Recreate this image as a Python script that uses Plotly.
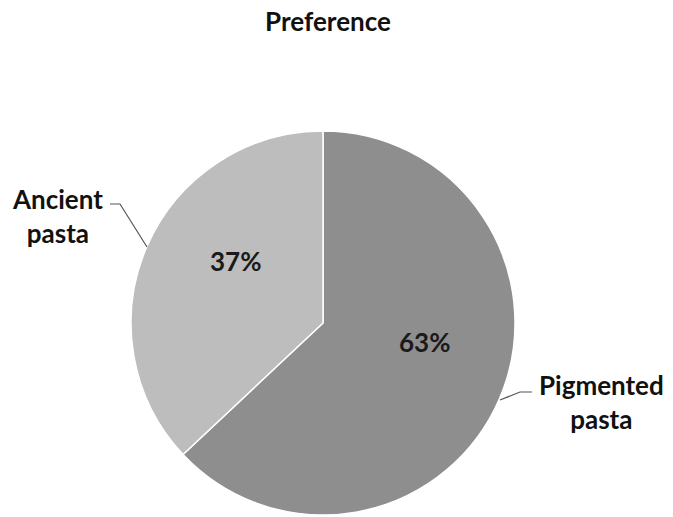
import plotly.graph_objects as go

W, H = 673, 517
title = "Preference"
categories = ["Pigmented pasta", "Ancient pasta"]
values = [63, 37]
colors = ["#8e8e8e", "#bdbdbd"]
label_lines = [["Pigmented", "pasta"], ["Ancient", "pasta"]]

def px(x):
    return x / W

def py(y):
    return 1 - y / H

cx, cy, r = 323, 323, 192

fig = go.Figure(go.Pie(
    labels=categories,
    values=values,
    sort=False,
    direction="clockwise",
    rotation=0,
    marker=dict(colors=colors, line=dict(color="white", width=1.5)),
    textinfo="none",
    hoverinfo="label+percent",
    showlegend=False,
    domain=dict(x=[px(cx - r), px(cx + r)], y=[py(cy + r), py(cy - r)]),
))

font_fam = "Lato, 'Open Sans', Arial, sans-serif"
total = sum(values)
pct = [f"{round(v / total * 100)}%" for v in values]

# percentage labels
pct_pos = [(424, 342), (235, 261)]
for t, (x, y) in zip(pct, pct_pos):
    fig.add_annotation(x=px(x), y=py(y), xref="paper", yref="paper", text=f"<b>{t}</b>",
                       showarrow=False, font=dict(family=font_fam, size=26, color="#1a1a1a"),
                       xanchor="center", yanchor="middle")

# category labels
lab_pos = [(601, 402), (57, 216)]
for lines, (x, y) in zip(label_lines, lab_pos):
    fig.add_annotation(x=px(x), y=py(y), xref="paper", yref="paper",
                       text="<b>" + "<br>".join(lines) + "</b>",
                       showarrow=False, align="center",
                       font=dict(family=font_fam, size=26, color="#111111"),
                       xanchor="center", yanchor="middle")

# leader lines
leaders = [
    [(532, 392), (520, 392), (500, 400)],
    [(110, 204), (120, 204), (147, 247)],
]
for pts in leaders:
    path = "M " + " L ".join(f"{px(x)},{py(y)}" for x, y in pts)
    fig.add_shape(type="path", path=path, xref="paper", yref="paper",
                  line=dict(color="#555555", width=1.2))

fig.update_layout(
    width=W, height=H,
    margin=dict(l=0, r=0, t=0, b=0),
    paper_bgcolor="white", plot_bgcolor="white",
    title=dict(text=f"<b>{title}</b>", x=px(328), y=py(22), xanchor="center", yanchor="middle",
               font=dict(family=font_fam, size=26, color="#111111")),
)

fig.write_html("out.html")
